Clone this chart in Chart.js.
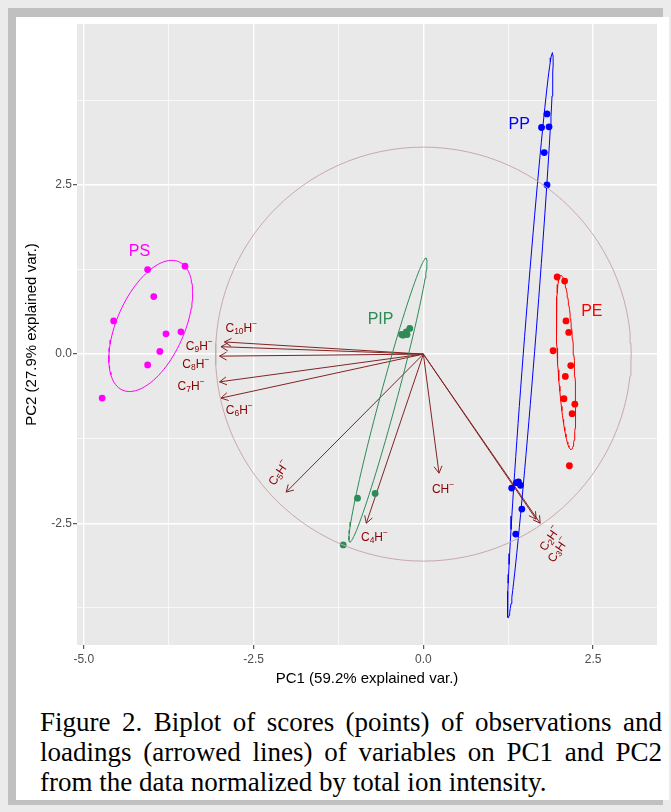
<!DOCTYPE html>
<html>
<head>
<meta charset="utf-8">
<title>PCA biplot</title>
<script src="https://cdn.jsdelivr.net/npm/chart.js@4.4.1/dist/chart.umd.min.js"></script>
<style>
  html, body { margin: 0; padding: 0; }
  body { width: 671px; height: 812px; background: #ebebeb; position: relative; overflow: hidden; }
  #shade { position: absolute; left: 8px; top: 8px; width: 655px; height: 797px; background: #c0c0c0; }
  #frame { position: absolute; left: 16px; top: 17px; width: 653px; height: 783px; background: #fff; }
  #chart { position: absolute; left: 0; top: 0; }
  #caption { position: absolute; left: 40px; top: 707px; width: 622px;
             font-family: 'Liberation Serif', 'Times New Roman', serif; font-size: 27px; line-height: 30px; color: #000; }
  #caption .j { text-align: justify; text-align-last: justify; }
</style>
</head>
<body>
<div id="shade"></div>
<div id="frame"></div>
<canvas id="chart" width="671" height="700"></canvas>
<div id="caption">
  <div class="j">Figure 2. Biplot of scores (points) of observations and</div>
  <div class="j">loadings (arrowed lines) of variables on PC1 and PC2</div>
  <div>from the data normalized by total ion intensity.</div>
</div>
<script>
// scores (PC1, PC2) per polymer group
const psX = [-4.06, -3.51, -3.97, -4.56, -3.79, -3.57, -3.88, -4.06, -4.73];
const psY = [1.25, 1.30, 0.85, 0.49, 0.30, 0.33, 0.04, -0.16, -0.65];
const pipX = [-0.30, -0.25, -0.20, -0.24, -0.32, -0.97, -0.71, -1.18];
const pipY = [0.28, 0.33, 0.38, 0.29, 0.29, -2.13, -2.06, -2.82];
const ppX = [1.82, 1.74, 1.85, 1.78, 1.82, 1.30, 1.40, 1.43, 1.37, 1.45, 1.36];
const ppY = [3.55, 3.35, 3.36, 2.98, 2.50, -1.98, -1.89, -1.94, -1.90, -2.29, -2.66];
const peX = [1.97, 2.08, 2.10, 2.14, 1.91, 2.17, 2.09, 2.07, 2.23, 2.19, 2.15];
const peY = [1.14, 1.08, 0.49, 0.32, 0.05, -0.17, -0.33, -0.66, -0.74, -0.88, -1.65];

const groupNames = ['PS', 'PIP', 'PP', 'PE'];
const groupColors = ['#ff00ff', '#2e8b57', '#0000ff', '#ff0000'];
const groupLabelX = [-4.18, -0.63, 1.41, 2.48];
const groupLabelY = [1.51, 0.51, 3.39, 0.63];

// loadings (arrow tips)
const loadingNames = ['C10H', 'C9H', 'C8H', 'C7H', 'C6H', 'C5H', 'C4H', 'CH', 'C2H', 'C3H'];
const loadingX = [-2.93, -2.98, -3.00, -3.00, -2.98, -2.02, -0.84, 0.23, 1.72, 1.66];
const loadingY = [0.18, 0.11, -0.03, -0.41, -0.65, -2.04, -2.50, -1.76, -2.50, -2.44];
const loadingLabelX = [-2.68, -3.30, -3.35, -3.42, -2.71, -2.12, -0.72, 0.29, 1.87, 1.99];
const loadingLabelY = [0.37, 0.11, -0.16, -0.48, -0.83, -1.76, -2.71, -2.01, -2.73, -2.90];
const loadingLabelAngle = [0, 0, 0, 0, 0, -55, 0, 0, -55, -55];

const circleRadius = 3.06;
const ellipseProb = 0.68;

const xMajor = [-5, -2.5, 0, 2.5];
const xMinor = [-3.75, -1.25, 1.25];
const yMajor = [-2.5, 0, 2.5];
const yMinor = [-3.75, -1.25, 1.25, 3.75];

const groupX = [psX, pipX, ppX, peX];
const groupY = [psY, pipY, ppY, peY];

// normal-data ellipse like ggbiplot: center + sqrt(qchisq(p,2)) * circle %*% chol(cov)
function dataEllipse(xs, ys) {
  const n = xs.length;
  const mx = xs.reduce((a, b) => a + b, 0) / n;
  const my = ys.reduce((a, b) => a + b, 0) / n;
  let sxx = 0, syy = 0, sxy = 0;
  for (let i = 0; i < n; i++) {
    sxx += (xs[i] - mx) ** 2;
    syy += (ys[i] - my) ** 2;
    sxy += (xs[i] - mx) * (ys[i] - my);
  }
  sxx /= n - 1; syy /= n - 1; sxy /= n - 1;
  const r11 = Math.sqrt(sxx), r12 = sxy / r11, r22 = Math.sqrt(Math.max(syy - r12 * r12, 0));
  const ed = Math.sqrt(-2 * Math.log(1 - ellipseProb));
  const pts = [];
  for (let k = 0; k <= 100; k++) {
    const t = 2 * Math.PI * k / 100;
    pts.push({ x: mx + ed * Math.cos(t) * r11, y: my + ed * (Math.cos(t) * r12 + Math.sin(t) * r22) });
  }
  return pts;
}

const circlePts = [];
for (let k = 0; k <= 120; k++) {
  const t = 2 * Math.PI * k / 120;
  circlePts.push({ x: circleRadius * Math.cos(t), y: circleRadius * Math.sin(t) });
}

const datasets = [{
  data: circlePts,
  showLine: true,
  pointRadius: 0,
  borderColor: '#c9a8ac',
  borderWidth: 1,
}];
groupNames.forEach((name, g) => {
  datasets.push({
    label: name,
    data: groupX[g].map((x, i) => ({ x, y: groupY[g][i] })),
    pointRadius: 3.4,
    pointBorderWidth: 0,
    backgroundColor: groupColors[g],
  });
  datasets.push({
    data: dataEllipse(groupX[g], groupY[g]),
    showLine: true,
    pointRadius: 0,
    borderColor: groupColors[g],
    borderWidth: 1,
  });
});

function drawIon(ctx, name, cx, cy, angleDeg) {
  const sub = name.slice(1, -1);
  const big = '12px "Liberation Sans"';
  const small = '8.5px "Liberation Sans"';
  ctx.font = big;
  const wC = ctx.measureText('C').width, wH = ctx.measureText('H').width;
  ctx.font = small;
  const wS = sub ? ctx.measureText(sub).width : 0;
  const wM = ctx.measureText('\u2212').width;
  const total = wC + wS + wH + wM;
  ctx.save();
  ctx.translate(cx, cy);
  ctx.rotate(angleDeg * Math.PI / 180);
  ctx.textBaseline = 'middle';
  ctx.textAlign = 'left';
  let px = -total / 2;
  ctx.font = big; ctx.fillText('C', px, 0); px += wC;
  if (sub) { ctx.font = small; ctx.fillText(sub, px, 3); px += wS; }
  ctx.font = big; ctx.fillText('H', px, 0); px += wH;
  ctx.font = small; ctx.fillText('\u2212', px, -5);
  ctx.restore();
}

const biplotExtras = {
  id: 'biplotExtras',
  beforeDraw(chart) {
    const { ctx, chartArea: a } = chart;
    ctx.save();
    ctx.fillStyle = '#e9e9e9';
    ctx.fillRect(a.left, a.top, a.right - a.left, a.bottom - a.top);
    ctx.restore();
  },
  beforeDatasetsDraw(chart) {
    const { ctx, chartArea: a, scales: { x, y } } = chart;
    ctx.save();
    ctx.beginPath();
    ctx.rect(a.left, a.top, a.right - a.left, a.bottom - a.top);
    ctx.clip();
    ctx.strokeStyle = '#832424';
    ctx.lineWidth = 1;
    const x0 = x.getPixelForValue(0), y0 = y.getPixelForValue(0);
    loadingX.forEach((lx, i) => {
      const x1 = x.getPixelForValue(lx), y1 = y.getPixelForValue(loadingY[i]);
      const ang = Math.atan2(y1 - y0, x1 - x0);
      ctx.beginPath();
      ctx.moveTo(x0, y0);
      ctx.lineTo(x1, y1);
      [-1, 1].forEach(s => {
        ctx.moveTo(x1, y1);
        ctx.lineTo(x1 - 8 * Math.cos(ang + s * Math.PI / 6), y1 - 8 * Math.sin(ang + s * Math.PI / 6));
      });
      ctx.stroke();
    });
    ctx.restore();
  },
  afterDatasetsDraw(chart) {
    const { ctx, scales: { x, y } } = chart;
    ctx.save();
    ctx.fillStyle = '#8b0000';
    loadingNames.forEach((name, i) => {
      drawIon(ctx, name, x.getPixelForValue(loadingLabelX[i]), y.getPixelForValue(loadingLabelY[i]), loadingLabelAngle[i]);
    });
    ctx.font = '16px "Liberation Sans"';
    ctx.textAlign = 'center';
    ctx.textBaseline = 'middle';
    groupNames.forEach((name, g) => {
      ctx.fillStyle = groupColors[g];
      ctx.fillText(name, x.getPixelForValue(groupLabelX[g]), y.getPixelForValue(groupLabelY[g]));
    });
    ctx.restore();
  }
};

function axisOptions(major, minor, title) {
  return {
    type: 'linear',
    border: { display: false },
    afterBuildTicks: scale => {
      scale.ticks = major.concat(minor).sort((a, b) => a - b).map(v => ({ value: v }));
    },
    grid: {
      color: '#ffffff',
      lineWidth: ctx => major.includes(ctx.tick.value) ? 1.4 : 0.7,
      tickColor: ctx => major.includes(ctx.tick.value) ? '#333333' : 'rgba(0,0,0,0)',
      tickLength: 4,
      tickWidth: 1,
    },
    ticks: {
      autoSkip: false,
      maxRotation: 0,
      padding: 1,
      color: '#4d4d4d',
      font: { family: '"Liberation Sans"', size: 12 },
      callback: v => major.includes(v) ? v.toFixed(1) : '',
    },
    title: {
      display: true,
      text: title,
      color: '#000000',
      font: { family: '"Liberation Sans"', size: 15 },
    },
  };
}

const xAxis = axisOptions(xMajor, xMinor, 'PC1 (59.2% explained var.)');
xAxis.min = -5.1;
xAxis.max = 3.44;
xAxis.afterFit = scale => { scale.height = 45; };
xAxis.title.padding = { top: 0, bottom: 2 };
xAxis.ticks.padding = 3;

const yAxis = axisOptions(yMajor, yMinor, 'PC2 (27.9% explained var.)');
yAxis.min = -4.3;
yAxis.max = 4.88;
yAxis.afterFit = scale => { scale.width = 77; };
yAxis.title.padding = { top: 23, bottom: 0 };

new Chart(document.getElementById('chart').getContext('2d'), {
  type: 'scatter',
  data: { datasets },
  options: {
    responsive: false,
    animation: false,
    events: [],
    layout: { padding: { left: 0, top: 24, right: 14, bottom: 10 } },
    plugins: { legend: { display: false }, tooltip: { enabled: false } },
    scales: { x: xAxis, y: yAxis },
  },
  plugins: [biplotExtras],
});
</script>
</body>
</html>
